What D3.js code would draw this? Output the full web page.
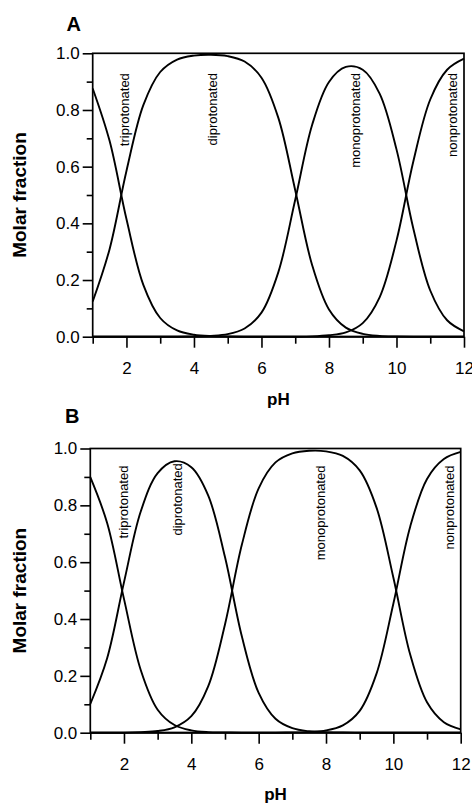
<!DOCTYPE html>
<html>
<head>
<meta charset="utf-8">
<script src="https://cdn.jsdelivr.net/npm/d3@7/dist/d3.min.js"></script>
<style>
body { margin: 0; background: #fff; }
text { font-family: "Liberation Sans", Arial, Helvetica, sans-serif; fill: #000; }
</style>
</head>
<body>
<svg id="chart"></svg>
<script>

var pH = [1, 1.5, 2, 2.5, 3, 3.5, 4, 4.5, 5, 5.5, 6, 6.5, 7, 7.5, 8, 8.5, 9, 9.5, 10, 10.5, 11, 11.5, 12];

var speciesNames = ['triprotonated', 'diprotonated', 'monoprotonated', 'nonprotonated'];

// panel A
var aTri  = [0.876, 0.691, 0.415, 0.183, 0.066, 0.022, 0.007, 0.002, 0.001, 0, 0, 0, 0, 0, 0, 0, 0, 0, 0, 0, 0, 0, 0];
var aDi   = [0.124, 0.309, 0.585, 0.817, 0.934, 0.978, 0.992, 0.995, 0.990, 0.971, 0.914, 0.772, 0.517, 0.253, 0.096, 0.032, 0.010, 0.003, 0.001, 0, 0, 0, 0];
var aMono = [0, 0, 0, 0, 0, 0, 0.001, 0.003, 0.009, 0.029, 0.085, 0.228, 0.483, 0.747, 0.899, 0.952, 0.942, 0.858, 0.661, 0.381, 0.163, 0.058, 0.019];
var aNon  = [0, 0, 0, 0, 0, 0, 0, 0, 0, 0, 0, 0, 0, 0.001, 0.005, 0.015, 0.048, 0.139, 0.339, 0.619, 0.837, 0.942, 0.981];

// panel B
var bTri  = [0.899, 0.738, 0.471, 0.220, 0.081, 0.027, 0.008, 0.002, 0.001, 0, 0, 0, 0, 0, 0, 0, 0, 0, 0, 0, 0, 0, 0];
var bDi   = [0.101, 0.262, 0.529, 0.779, 0.913, 0.955, 0.934, 0.835, 0.618, 0.339, 0.140, 0.049, 0.016, 0.005, 0.002, 0.001, 0, 0, 0, 0, 0, 0, 0];
var bMono = [0, 0, 0, 0.002, 0.006, 0.019, 0.058, 0.163, 0.381, 0.661, 0.860, 0.951, 0.983, 0.992, 0.990, 0.974, 0.923, 0.792, 0.546, 0.275, 0.107, 0.037, 0.012];
var bNon  = [0, 0, 0, 0, 0, 0, 0, 0, 0, 0, 0, 0, 0.001, 0.003, 0.008, 0.026, 0.077, 0.208, 0.454, 0.725, 0.893, 0.963, 0.988];

var xMajor = [2, 4, 6, 8, 10, 12];
var xMinor = [1, 3, 5, 7, 9, 11];
var yMajor = [0, 0.2, 0.4, 0.6, 0.8, 1.0];
var yMinor = [0.1, 0.3, 0.5, 0.7, 0.9];

var panels = [
	{ letter: 'A', series: [aTri, aDi, aMono, aNon],
		left: 92.7, right: 464, top: 53.3, bottom: 336.7, letterX: 66.5, letterY: 30.7, phY: 405,
		labelPos: [[1.93, 0.93], [4.54, 0.93], [8.78, 0.93], [11.65, 0.93]] },
	{ letter: 'B', series: [bTri, bDi, bMono, bNon],
		left: 90.3, right: 460.7, top: 448.5, bottom: 732.7, letterX: 65, letterY: 423.3, phY: 800,
		labelPos: [[1.98, 0.94], [3.58, 0.948], [7.82, 0.94], [11.67, 0.94]] }
];

var svg = d3.select('#chart')
	.attr('width', 472)
	.attr('height', 804);

panels.forEach(function(p) {

	var x = d3.scaleLinear()
		.domain([1, 12])
		.range([p.left, p.right]);

	var y = d3.scaleLinear()
		.domain([0, 1])
		.range([p.bottom, p.top]);

	var g = svg.append('g');

	g.append('g')
		.attr('transform', 'translate(0,' + p.bottom + ')')
		.call(d3.axisBottom(x).tickValues(xMinor).tickSize(7).tickSizeOuter(0).tickFormat(''))
		.call(styleAxis);

	g.append('g')
		.attr('transform', 'translate(0,' + p.bottom + ')')
		.call(d3.axisBottom(x).tickValues(xMajor).tickSize(11).tickSizeOuter(0).tickPadding(14).tickFormat(d3.format('d')))
		.call(styleAxis);

	g.append('g')
		.attr('transform', 'translate(' + p.left + ',0)')
		.call(d3.axisLeft(y).tickValues(yMinor).tickSize(6).tickSizeOuter(0).tickFormat(''))
		.call(styleAxis);

	g.append('g')
		.attr('transform', 'translate(' + p.left + ',0)')
		.call(d3.axisLeft(y).tickValues(yMajor).tickSize(10).tickSizeOuter(0).tickPadding(3).tickFormat(d3.format('.1f')))
		.call(styleAxis);

	g.append('rect')
		.attr('x', p.left)
		.attr('y', p.top)
		.attr('width', p.right - p.left)
		.attr('height', p.bottom - p.top)
		.attr('fill', 'none')
		.attr('stroke', '#000')
		.attr('stroke-width', 1.7);

	var line = d3.line()
		.x(function(d, i) { return x(pH[i]); })
		.y(function(d) { return y(d); })
		.curve(d3.curveCatmullRom.alpha(0.5));

	g.selectAll('path.curve')
		.data(p.series)
		.enter().append('path')
		.attr('class', 'curve')
		.attr('d', line)
		.attr('fill', 'none')
		.attr('stroke', '#000')
		.attr('stroke-width', 1.9);

	g.selectAll('text.species')
		.data(speciesNames)
		.enter().append('text')
		.attr('class', 'species')
		.attr('transform', function(d, i) {
			return 'translate(' + x(p.labelPos[i][0]) + ',' + y(p.labelPos[i][1]) + ') rotate(-90)';
		})
		.attr('dy', '0.35em')
		.attr('text-anchor', 'end')
		.style('font-size', '13px')
		.text(function(d) { return d; });

	g.append('text')
		.attr('transform', 'translate(26,' + ((p.top + p.bottom) / 2) + ') rotate(-90)')
		.attr('text-anchor', 'middle')
		.style('font-size', '19px')
		.style('font-weight', 'bold')
		.text('Molar fraction');

	g.append('text')
		.attr('x', (p.left + p.right) / 2)
		.attr('y', p.phY)
		.attr('text-anchor', 'middle')
		.style('font-size', '17px')
		.style('font-weight', 'bold')
		.text('pH');

	g.append('text')
		.attr('x', p.letterX)
		.attr('y', p.letterY)
		.style('font-size', '20px')
		.style('font-weight', 'bold')
		.text(p.letter);
});

function styleAxis(sel) {
	sel.select('.domain').remove();
	sel.selectAll('.tick line').attr('stroke', '#000').attr('stroke-width', 1.6);
	sel.selectAll('.tick text').style('font-size', '17px').style('font-family', '"Liberation Sans", Arial, sans-serif').attr('fill', '#000');
}

</script>
</body>
</html>
